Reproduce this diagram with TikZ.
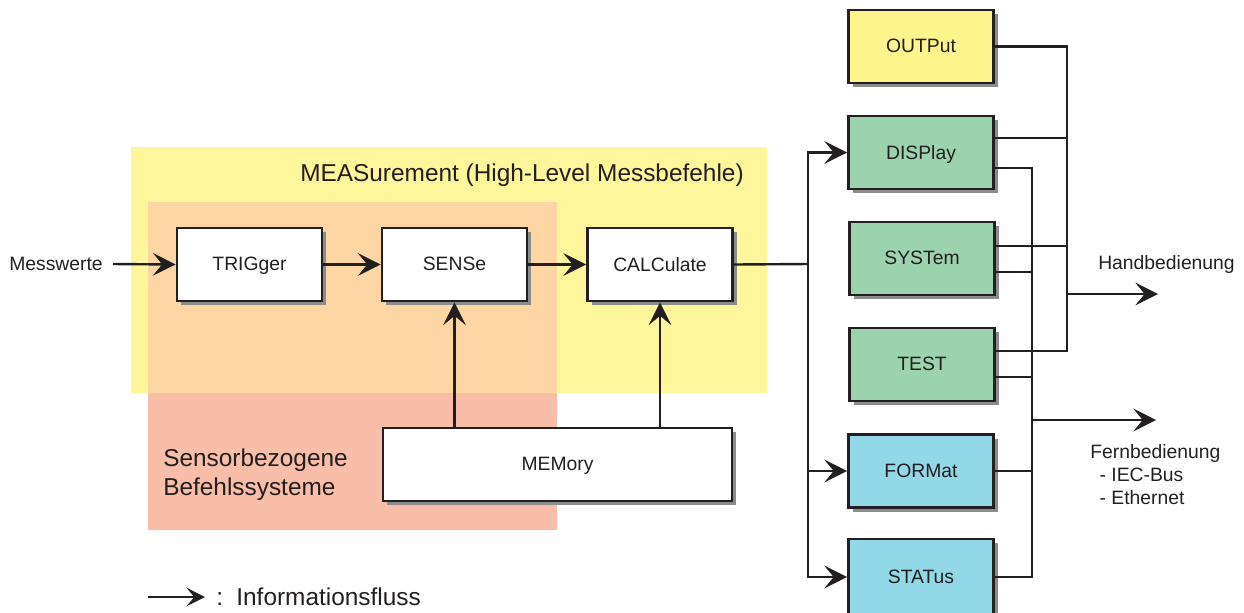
\documentclass[tikz,border=0pt]{standalone}
\usepackage{fontspec}
\setmainfont{Liberation Sans}
\usetikzlibrary{arrows.meta,calc,shadows}
\definecolor{ink}{RGB}{35,31,32}
\definecolor{measY}{RGB}{255,245,155}
\definecolor{sensOr}{RGB}{253,214,164}
\definecolor{sensSal}{RGB}{249,190,168}
\definecolor{outY}{RGB}{255,245,140}
\definecolor{devG}{RGB}{155,211,174}
\definecolor{devB}{RGB}{146,216,232}
\begin{document}
\begin{tikzpicture}[x=0.75pt,y=-0.75pt,
  line/.style={line width=1.8pt,draw=ink},
  flow/.style={line,-{Stealth[length=17pt,width=17pt,inset=7pt]}},
  legendflow/.style={line width=1.4pt,draw=ink,-{Stealth[length=14pt,width=14pt,inset=6pt]}},
  smalltext/.style={font=\fontsize{14.5}{17.25}\selectfont,text=ink},
  bigtext/.style={font=\fontsize{18.3}{21.75}\selectfont,text=ink},
  blk/.style={draw=ink,line width=2.2pt,minimum width=108.75pt,minimum height=54.75pt,
    inner sep=0pt,smalltext,text depth=0.5pt,
    drop shadow={shadow xshift=3pt,shadow yshift=-3pt,fill=black!45,opacity=1}},
]
\useasboundingbox (0,0) rectangle (1244,612);
\clip (0,0) rectangle (1244,612);

% command groups
\fill[measY] (131,147) rectangle (767,393);
\fill[sensOr] (148,202) rectangle (557,393);
\fill[sensSal] (148,393) rectangle (557,530);

\node[bigtext,anchor=west,inner sep=0pt] (title) at (300,175) {MEASurement (High-Level Messbefehle)};
\node[bigtext,anchor=west,inner sep=0pt,align=left] (sensgrp) at (163,474.5) {Sensorbezogene\\Befehlssysteme};

% measurement chain
\node[blk,fill=white] (trig) at (249.5,264.5) {TRIGger};
\node[blk,fill=white] (sense) at (454.5,264.5) {SENSe};
\node[blk,fill=white] (calc) at (660,264.5) {CALCulate};
\node[blk,fill=white,minimum width=261.75pt] (mem) at (557.5,464.5) {MEMory};

% output subsystems
\node[blk,fill=outY] (out) at (921,46.5) {OUTPut};
\node[blk,fill=devG] (disp) at (921,152.5) {DISPlay};
\node[blk,fill=devG] (sys) at (922,258.5) {SYSTem};
\node[blk,fill=devG] (test) at (922,364.5) {TEST};
\node[blk,fill=devB] (form) at (921,471) {FORMat};
\node[blk,fill=devB,minimum height=57pt] (stat) at (921,577) {STATus};

% input
\node[smalltext,inner sep=0pt] (mw) at (56,264) {Messwerte};
\draw[flow] ([xshift=7.5pt]mw.east) -- (trig.west);
\draw[flow] (trig.east) -- (sense.west);
\draw[flow] (sense.east) -- (calc.west);
\draw[flow] (sense.south |- mem.north) -- (sense.south);
\draw[flow] (calc.south |- mem.north) -- (calc.south);

% distribution to the subsystems
\coordinate (lb) at (808,264);
\draw[line] (calc.east) -- (lb);
\draw[flow] (lb) |- (disp.west);
\draw[flow] (lb) |- (form.west);
\draw[flow] (lb) |- (stat.west);

% taps of the subsystems
\coordinate (hbx) at (1067,0);
\coordinate (fbx) at (1032,0);
\coordinate (dispH) at ($(disp.east)+(0,-14.5)$);
\coordinate (dispF) at ($(disp.east)+(0,15.5)$);
\coordinate (sysH) at ($(sys.east)+(0,-12.5)$);
\coordinate (sysF) at ($(sys.east)+(0,13.5)$);
\coordinate (testH) at ($(test.east)+(0,-13.5)$);
\coordinate (testF) at ($(test.east)+(0,12.5)$);

% local operation
\draw[line] (out.east) -| (testH -| hbx) -- (testH);
\draw[line] (dispH) -- (dispH -| hbx);
\draw[line] (sysH) -- (sysH -| hbx);
\coordinate (hbOut) at (1067,294);
\coordinate (hbEnd) at (1158,294);
\draw[flow] (hbOut) -- (hbEnd);
\node[smalltext,inner sep=0pt] (hb) at (1166.5,264) {Handbedienung};

% remote operation
\draw[line] (dispF) -| (stat.east -| fbx) -- (stat.east);
\draw[line] (sysF) -- (sysF -| fbx);
\draw[line] (testF) -- (testF -| fbx);
\draw[line] (form.east) -- (form.east -| fbx);
\coordinate (fbOut) at (1032,420);
\coordinate (fbEnd) at (1156,420);
\draw[flow] (fbOut) -- (fbEnd);
\node[smalltext,inner sep=0pt,anchor=west,align=left] (fb) at (1090,475)
  {Fernbedienung\\\hspace*{7pt}- IEC-Bus\\\hspace*{7pt}- Ethernet};

% legend
\coordinate (lgA) at (148,597);
\coordinate (lgB) at (205,597);
\draw[legendflow] (lgA) -- (lgB);
\node[bigtext,inner sep=0pt,anchor=west] (lg) at (216,597) {:\hspace{10pt}Informationsfluss};
\end{tikzpicture}
\end{document}
